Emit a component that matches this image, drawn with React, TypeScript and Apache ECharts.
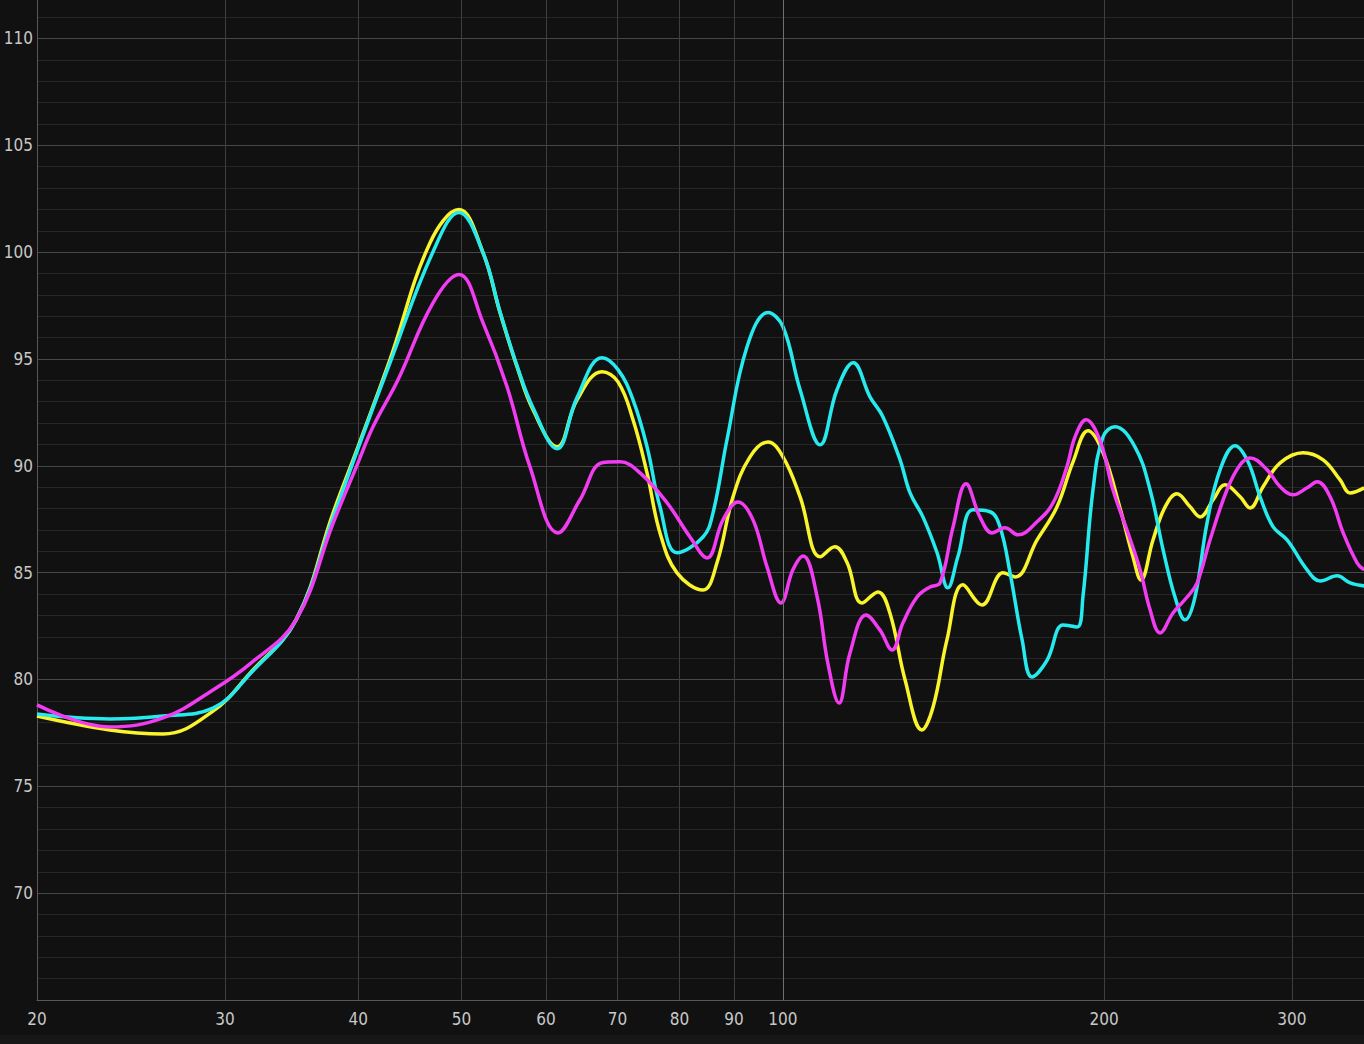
import React, { useEffect, useRef } from 'react';
import * as echarts from 'echarts';

const xTicks = [20, 30, 40, 50, 60, 70, 80, 90, 100, 200, 300];

const yellowFreq = [20, 23.4, 26.25, 29.24, 31.67, 34.98, 37.88, 39.98, 42.84, 46.7, 49.72, 52.36, 54.32, 56.35, 58.33, 61.43, 64.14, 67.69, 70.07, 72.38, 74.6, 76.72, 79.59, 84.18, 86.76, 89.81, 93.17, 96.86, 100.04, 103.8, 108.4, 111.9, 114.9, 118.6, 122.8, 126.0, 130.2, 135.0, 138.3, 142.5, 147.5, 153.7, 160.8, 165.1, 173.1, 180.7, 187.1, 193.2, 199.6, 207.0, 212.9, 216.6, 222.3, 228.2, 234.1, 240.8, 246.1, 253.1, 259.7, 268.3, 274.1, 281.9, 292.5, 307.4, 320.9, 332.9, 340.2, 350.6];
const yellowDb = [78.29, 77.64, 77.45, 78.52, 80.3, 82.79, 87.78, 90.89, 94.97, 100.43, 101.99, 99.98, 97.17, 94.64, 92.62, 90.89, 93.09, 94.4, 93.93, 92.16, 89.67, 86.86, 84.99, 84.19, 85.46, 88.55, 90.42, 91.12, 90.42, 88.55, 85.74, 86.21, 85.46, 83.58, 84.1, 83.11, 79.98, 77.64, 78.71, 81.85, 84.43, 83.49, 84.99, 84.8, 86.53, 88.08, 90.2, 91.64, 90.61, 88.03, 85.74, 84.66, 86.53, 88.08, 88.69, 88.08, 87.61, 88.41, 89.11, 88.55, 88.03, 89.02, 90.14, 90.61, 90.28, 89.34, 88.73, 88.97];

const cyanFreq = [20, 23.4, 26.25, 29.24, 31.67, 34.98, 37.88, 39.98, 42.84, 47.01, 49.72, 52.36, 54.32, 56.35, 58.33, 61.43, 64.14, 67.69, 70.07, 72.38, 74.6, 76.72, 79.59, 84.18, 86.02, 88.65, 92.57, 96.86, 100.04, 103.8, 108.4, 112.4, 116.4, 120.7, 124.1, 128.8, 131.6, 135.3, 139.5, 142.8, 145.9, 150.7, 156.4, 159.8, 163.3, 167.6, 171.2, 176.9, 183.1, 188.7, 191.1, 195.3, 199.6, 204.8, 213.8, 220.9, 227.2, 233.1, 238.2, 243.4, 249.8, 256.9, 265.4, 272.9, 280.1, 288.1, 296.9, 310.0, 318.9, 330.8, 340.2, 350.6];
const cyanDb = [78.38, 78.15, 78.29, 78.66, 80.26, 82.79, 87.56, 90.8, 94.82, 100.02, 101.85, 99.98, 97.21, 94.68, 92.72, 90.8, 93.19, 95.06, 94.5, 93.09, 90.89, 88.08, 85.93, 86.67, 87.8, 91.22, 95.57, 97.17, 96.51, 93.56, 90.98, 93.56, 94.82, 93.23, 92.3, 90.28, 88.73, 87.61, 85.93, 84.29, 85.74, 87.94, 87.85, 87.14, 84.99, 81.85, 80.12, 80.91, 82.55, 82.46, 83.86, 88.88, 91.36, 91.83, 90.89, 88.88, 86.07, 83.86, 82.79, 83.86, 87.33, 89.81, 90.94, 90.19, 88.55, 87.14, 86.53, 85.13, 84.61, 84.85, 84.52, 84.38];

const magentaFreq = [20, 23.4, 26.25, 29.24, 31.67, 34.98, 37.88, 39.98, 41.3, 43.59, 47.01, 49.72, 52.36, 55.15, 57.95, 61.56, 64.55, 67.69, 70.38, 73.48, 77.89, 81.85, 84.91, 87.89, 90.78, 93.77, 96.65, 99.61, 102.2, 104.5, 107.7, 110.2, 112.9, 115.6, 119.7, 123.3, 126.6, 129.6, 133.6, 137.4, 140.4, 144.4, 148.5, 153.0, 157.1, 161.5, 166.1, 173.1, 179.2, 184.6, 187.9, 192.4, 198.3, 203.9, 210.6, 216.2, 220.9, 225.7, 232.1, 239.3, 244.5, 251.4, 260.8, 268.3, 274.1, 284.4, 292.5, 300.8, 310.0, 316.8, 325.8, 335.1, 345.3, 350.6];
const magentaDb = [78.81, 77.78, 78.2, 79.51, 80.73, 82.79, 87.3, 90.14, 91.83, 94.03, 97.63, 98.95, 96.7, 93.7, 89.95, 86.86, 88.41, 90.14, 90.19, 89.67, 88.27, 86.67, 85.69, 87.47, 88.31, 87.47, 85.27, 83.58, 85.13, 85.78, 83.86, 80.77, 78.9, 81.24, 83.02, 82.32, 81.38, 82.65, 83.86, 84.33, 84.52, 87.14, 89.16, 87.61, 86.86, 87.1, 86.77, 87.38, 88.27, 89.95, 91.36, 92.15, 91.17, 88.88, 86.86, 85.13, 83.26, 82.18, 83.11, 83.86, 84.52, 86.53, 88.88, 90.05, 90.37, 89.81, 89.02, 88.64, 88.97, 89.25, 88.55, 86.86, 85.46, 85.13];

const FONT = "'Liberation Sans Narrow', 'DejaVu Sans Condensed', 'Noto Sans', sans-serif";
const lg = (f: number) => Math.log10(f);
const toData = (fs: number[], ds: number[]) => fs.map((f, i) => [lg(f), ds[i]]);

export default function App() {
  const ref = useRef<HTMLDivElement>(null);
  useEffect(() => {
    const chart = echarts.init(ref.current!, null, { renderer: 'svg' });
    const lineSeries = (name: string, color: string, fs: number[], ds: number[]) => ({
      name,
      type: 'line',
      data: toData(fs, ds),
      showSymbol: false,
      symbol: 'none',
      smooth: 0.4,
      lineStyle: { color, width: 3.5 },
      itemStyle: { color },
      z: 3,
    });
    chart.setOption({
      animation: false,
      backgroundColor: '#111111',
      grid: { left: 37, right: 0, top: 0, bottom: 44, outerBoundsMode: 'none' },
      xAxis: {
        type: 'value',
        min: lg(20),
        max: lg(350.5),
        axisLine: { show: true, lineStyle: { color: '#585858', width: 1 } },
        axisTick: { show: false, customValues: xTicks.map(lg) },
        axisLabel: {
          customValues: xTicks.map(lg),
          formatter: (v: number) => String(Math.round(Math.pow(10, v))),
          color: '#c8c8c8',
          fontSize: 17,
          fontFamily: FONT,
          margin: 10,
        },
        splitLine: { show: true, lineStyle: { color: '#3e3e3e', width: 1 } },
      },
      yAxis: {
        type: 'value',
        min: 65,
        max: 111.8,
        interval: 5,
        axisLine: { show: true, lineStyle: { color: '#585858', width: 1 } },
        axisTick: { show: false },
        axisLabel: {
          color: '#c8c8c8',
          fontSize: 17,
          fontFamily: FONT,
          margin: 4,
          showMinLabel: false,
          showMaxLabel: false,
          formatter: (v: number) => (v % 5 === 0 && v > 65 && v <= 110 ? String(v) : ''),
        },
        splitLine: { show: true, showMaxLine: false, lineStyle: { color: '#474747', width: 1 } },
        minorTick: { show: false, splitNumber: 5 },
        minorSplitLine: { show: true, lineStyle: { color: '#262626', width: 1 } },
      },
      graphic: [
        { type: 'rect', shape: { x: 0, y: 1035, width: 1364, height: 9 }, style: { fill: '#171717' }, silent: true },
      ],
      series: [
        {
          type: 'line',
          data: [],
          silent: true,
          markLine: {
            silent: true,
            symbol: 'none',
            label: { show: false },
            lineStyle: { color: '#707070', width: 1, type: 'solid' },
            data: [{ xAxis: lg(100) }],
          },
          z: 1,
        },
        lineSeries('Yellow', '#faf42c', yellowFreq, yellowDb),
        lineSeries('Cyan', '#26eaee', cyanFreq, cyanDb),
        lineSeries('Magenta', '#f23cf2', magentaFreq, magentaDb),
      ],
    });
    return () => chart.dispose();
  }, []);
  return <div ref={ref} style={{ position: 'fixed', left: 0, top: 0, width: 1364, height: 1044 }} />;
}
